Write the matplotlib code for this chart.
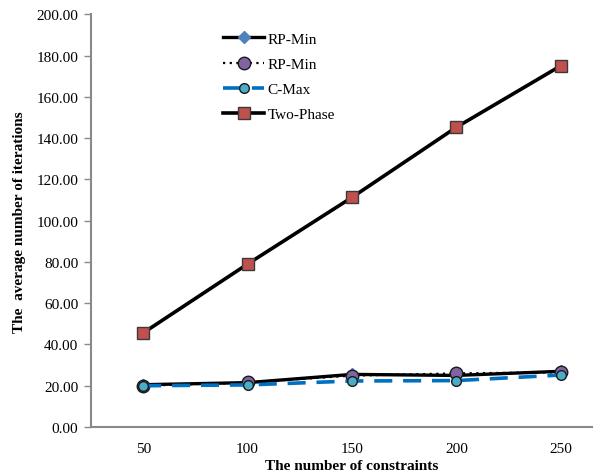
import matplotlib
matplotlib.use("Agg")
import matplotlib.pyplot as plt

constraints = ["50", "100", "150", "200", "250"]
rp_min_a = [20.5, 21.5, 25.5, 25.0, 27.0]
rp_min_b = [20.0, 21.6, 24.9, 26.0, 26.5]
c_max = [20.0, 20.4, 22.3, 22.5, 25.2]
two_phase = [45.6, 79.0, 111.3, 145.3, 175.1]
y_ticks = [0, 20, 40, 60, 80, 100, 120, 140, 160, 180, 200]

plt.rcParams["font.family"] = ["Liberation Serif", "DejaVu Serif"]
plt.rcParams["font.size"] = 11

W, H = 593, 477
fig = plt.figure(figsize=(W / 100, H / 100), dpi=100)
# the plot area runs past the right edge of the image, like the original
ax = fig.add_axes([91 / W, (H - 428) / H, (613 - 91) / W, (428 - 15.4) / H])

x = list(range(len(constraints)))
ax.plot(x, rp_min_a, color="black", lw=2.4, marker="D", ms=6,
        mfc="#4F81BD", mec="#4F81BD", label="RP-Min")
ax.plot(x, rp_min_b, color="black", lw=1.6, ls=(0, (1, 2)), marker="o", ms=9,
        mfc="#8064A2", mec="#1a1a1a", mew=1, label="RP-Min")
ax.plot(x, c_max, color="#0070C0", lw=2.6, ls=(0, (5, 3)), marker="o", ms=7,
        mfc="#4BACC6", mec="#1a1a1a", mew=1, label="C-Max")
ax.plot(x, two_phase, color="black", lw=2.6, marker="s", ms=9,
        mfc="#C0504D", mec="#3a3a3a", mew=1, label="Two-Phase")

ax.set_xlim(-0.5, len(constraints) - 0.5)
ax.set_ylim(0, 200)
ax.set_xticks(x)
ax.set_xticklabels(constraints)
ax.set_yticks(y_ticks)
ax.set_yticklabels([f"{v:.2f}" for v in y_ticks])
ax.tick_params(axis="x", length=0, pad=11)
ax.tick_params(axis="y", length=5, width=1, color="#898989", pad=4)

for side in ["top", "right"]:
    ax.spines[side].set_visible(False)
for side in ["left", "bottom"]:
    ax.spines[side].set_color("#898989")
    ax.spines[side].set_linewidth(1.5)

ax.set_xlabel("The number of constraints", fontweight="bold", labelpad=3)
ax.set_ylabel("The  average number of iterations", fontweight="bold", labelpad=8)

ax.legend(loc="upper left", bbox_to_anchor=((217 - 91) / (613 - 91), 1 - (27 - 15.4) / (428 - 15.4)),
          frameon=False, handlelength=2.7, handletextpad=0.2, labelspacing=0.75,
          borderaxespad=0)

fig.savefig("out.png", dpi=100)
